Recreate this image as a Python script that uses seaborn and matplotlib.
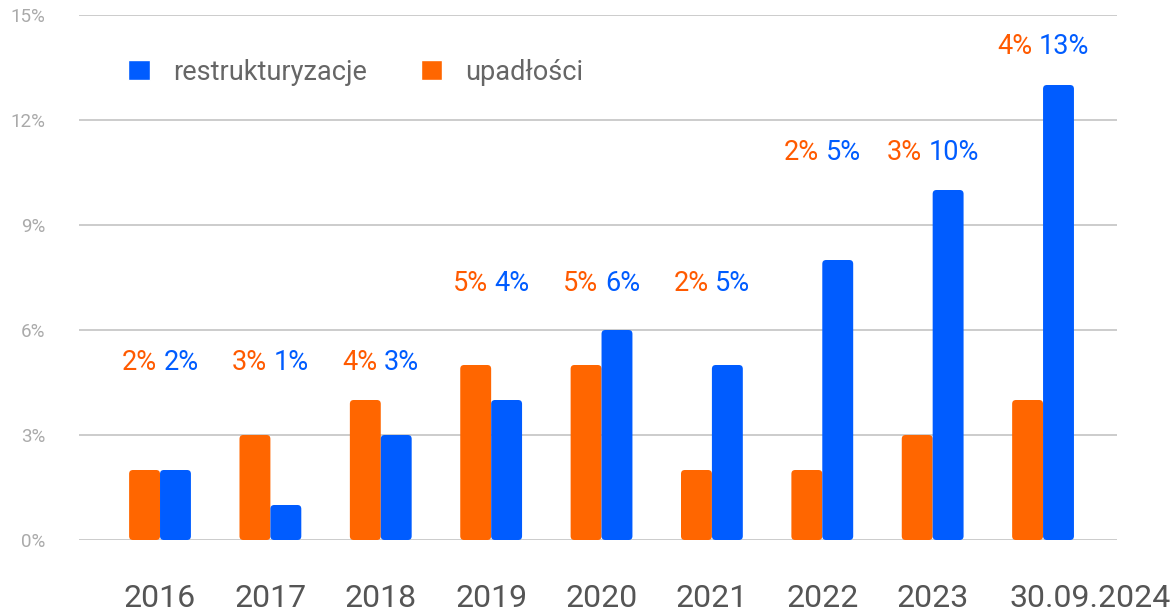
import matplotlib
matplotlib.use("Agg")
import matplotlib.pyplot as plt
import pandas as pd
import seaborn as sns
from matplotlib.patches import FancyBboxPatch, Patch
from matplotlib.transforms import ScaledTranslation

# dane
lata = ["2016", "2017", "2018", "2019", "2020", "2021", "2022", "2023", "30.09.2024"]
upadlosci = [2, 3, 4, 5, 5, 2, 2, 3, 4]
restrukturyzacje = [2, 1, 3, 4, 6, 5, 8, 10, 13]
# etykiety nad slupkami (tak jak na oryginale)
etykiety_upadlosci = ["2%", "3%", "4%", "5%", "5%", "2%", "2%", "3%", "4%"]
etykiety_restr = ["2%", "1%", "3%", "4%", "6%", "5%", "5%", "10%", "13%"]
label_y = [5.06, 5.06, 5.06, 7.34, 7.34, 7.34, 11.06, 11.06, 14.09]

ORANGE = "#FF6600"
BLUE = "#005CFF"
ORANGE_TXT = "#FF5A00"
BLUE_TXT = "#005CFF"

df = pd.DataFrame({
    "rok": lata * 2,
    "wartosc": upadlosci + restrukturyzacje,
    "typ": ["upadłości"] * len(lata) + ["restrukturyzacje"] * len(lata),
})

sns.set_style("white")
plt.rcParams["font.family"] = ["Roboto", "DejaVu Sans"]

fig = plt.figure(figsize=(11.74, 6.13), dpi=100)
ax = fig.add_axes([79 / 1174, 1 - 540 / 613, (1117 - 79) / 1174, 525 / 613])

sns.barplot(data=df, x="rok", y="wartosc", hue="typ",
            hue_order=["upadłości", "restrukturyzacje"],
            palette=[ORANGE, BLUE], width=0.56, saturation=1,
            legend=False, ax=ax)

# zaokraglone rogi slupkow
bars = [p for p in ax.patches]
for p in bars:
    x, y = p.get_x(), p.get_y()
    w, h = p.get_width(), p.get_height()
    fc = p.get_facecolor()
    p.remove()
    ax.add_patch(FancyBboxPatch((x, y), w, h,
                                boxstyle="round,pad=0,rounding_size=0.035",
                                mutation_aspect=3.15, facecolor=fc,
                                edgecolor="none", zorder=3))

ax.set_xlim(-0.734, 8.67)
ax.set_ylim(0, 15)
ax.set_yticks(range(0, 16, 3))
ax.set_yticklabels([f"{v}%" for v in range(0, 16, 3)])
ax.yaxis.grid(True, color="#c8c8c8", linewidth=1.3, zorder=0)
ax.set_axisbelow(True)
for s in ax.spines.values():
    s.set_visible(False)
ax.set_xlabel("")
ax.set_ylabel("")
ax.tick_params(axis="y", length=0, pad=24, labelsize=13.5, labelcolor="#aaaaaa")
ax.tick_params(axis="x", length=0, pad=32, labelsize=23, labelcolor="#555555")

last = ax.get_xticklabels()[-1]
last.set_transform(last.get_transform() + ScaledTranslation(47 / 100, 0, fig.dpi_scale_trans))

# etykiety wartosci nad grupami
for i, (u, r) in enumerate(zip(etykiety_upadlosci, etykiety_restr)):
    full = ax.text(i, label_y[i], f"{u} {r}", ha="center", va="center",
                   fontsize=19.5, alpha=0)
    ax.annotate(u, xy=(0, 0.5), xycoords=full, ha="left", va="center",
                fontsize=19.5, color=ORANGE_TXT)
    ax.annotate(r, xy=(1, 0.5), xycoords=full, ha="right", va="center",
                fontsize=19.5, color=BLUE_TXT)

handles = [Patch(facecolor=BLUE, label="restrukturyzacje"),
           Patch(facecolor=ORANGE, label="upadłości")]
ax.legend(handles=handles, ncol=2, frameon=False, fontsize=19.5,
          labelcolor="#666666", handlelength=0.8, handleheight=0.8,
          handletextpad=0.85, columnspacing=2.0, borderpad=0, borderaxespad=0,
          loc="center left", bbox_to_anchor=(128 / 1174, 1 - 72 / 613),
          bbox_transform=fig.transFigure)

fig.savefig("out.png", dpi=100)
